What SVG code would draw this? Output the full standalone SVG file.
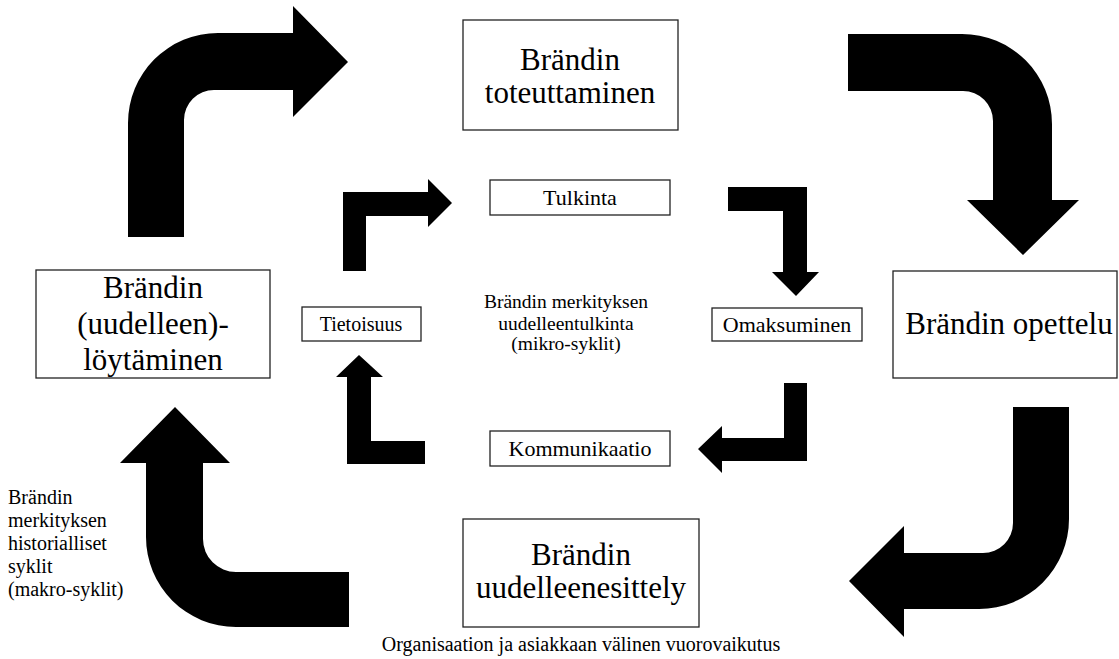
<svg xmlns="http://www.w3.org/2000/svg" width="1119" height="659" viewBox="0 0 1119 659">
<style>
.box{fill:#fff;stroke:#222;stroke-width:1.3}
.t{font-family:"Liberation Serif","Times New Roman",serif;fill:#000;text-anchor:middle}
.big{font-size:31px}
.sm{font-size:22px}
.md{font-size:19.5px}
.lf{font-size:20px;text-anchor:start}
.cap{font-size:20px}
.arr{fill:#000}
</style>
<rect width="1119" height="659" fill="#fff"/>
<g id="connectors">
<path class="arr" d="M128,237 L128,123 A90,90 0 0 1 218,33 L293,33 L293,6 L348,62 L293,117 L293,90 L214,90 A30,30 0 0 0 184,120 L184,237 Z"/>
<path class="arr" d="M848,34 L962,34 A90,90 0 0 1 1052,124 L1052,200 L1079,200 L1023,255 L967,200 L993,200 L993,121 A30,30 0 0 0 963,91 L848,91 Z"/>
<path class="arr" d="M1013,407 L1069,407 L1069,519 A90,90 0 0 1 979,609 L904,609 L904,637 L849,581 L904,526 L904,553 L983,553 A30,30 0 0 0 1013,523 Z"/>
<path class="arr" d="M349,572 L236,572 A33,33 0 0 1 203,539 L203,463 L230,463 L175,407 L120,463 L146,463 L146,537 A90,90 0 0 0 236,627 L349,627 Z"/>
<path class="arr" d="M343,271 L343,192 L428,192 L428,179 L452,203 L428,227 L428,216 L366,216 L366,271 Z"/>
<path class="arr" d="M728,187 L807,187 L807,272 L819,272 L796,296 L772,272 L783,272 L783,211 L728,211 Z"/>
<path class="arr" d="M425,464 L347,464 L347,377 L336,377 L359,355 L383,377 L371,377 L371,441 L425,441 Z"/>
<path class="arr" d="M784,383 L807,383 L807,461 L722,461 L722,473 L698,449 L722,426 L722,438 L784,438 Z"/>
</g>
<g id="toteuttaminen">
<rect class="box" x="463" y="20" width="215" height="110"/>
<text class="t big" x="570" y="70">Brändin</text>
<text class="t big" x="570" y="103">toteuttaminen</text>
</g>
<g id="loytaminen">
<rect class="box" x="36" y="270" width="234" height="108"/>
<text class="t big" x="153" y="298">Brändin</text>
<text class="t big" x="153" y="334">(uudelleen)-</text>
<text class="t big" x="153" y="370">löytäminen</text>
</g>
<g id="opettelu">
<rect class="box" x="893" y="271" width="224" height="107"/>
<text class="t big" x="1009" y="334">Brändin opettelu</text>
</g>
<g id="uudelleenesittely">
<rect class="box" x="463" y="519" width="236" height="108"/>
<text class="t big" x="581" y="565">Brändin</text>
<text class="t big" x="581" y="598">uudelleenesittely</text>
</g>
<g id="tulkinta">
<rect class="box" x="490" y="180" width="180" height="35"/>
<text class="t sm" x="580" y="205">Tulkinta</text>
</g>
<g id="tietoisuus">
<rect class="box" x="302" y="307" width="119" height="34"/>
<text class="t sm" x="361" y="331" style="font-size:20px">Tietoisuus</text>
</g>
<g id="omaksuminen">
<rect class="box" x="712" y="308" width="150" height="33"/>
<text class="t sm" x="787" y="332">Omaksuminen</text>
</g>
<g id="kommunikaatio">
<rect class="box" x="490" y="431" width="180" height="35"/>
<text class="t sm" x="580" y="456">Kommunikaatio</text>
</g>
<g id="mikro">
<text class="t md" x="566" y="308">Brändin merkityksen</text>
<text class="t md" x="566" y="330">uudelleentulkinta</text>
<text class="t md" x="566" y="350">(mikro-syklit)</text>
</g>
<g id="makro">
<text class="t lf" x="8" y="504">Brändin</text>
<text class="t lf" x="8" y="527">merkityksen</text>
<text class="t lf" x="8" y="550">historialliset</text>
<text class="t lf" x="8" y="573">syklit</text>
<text class="t lf" x="8" y="596">(makro-syklit)</text>
</g>
<g id="caption">
<text class="t cap" x="581" y="651">Organisaation ja asiakkaan välinen vuorovaikutus</text>
</g>
</svg>
